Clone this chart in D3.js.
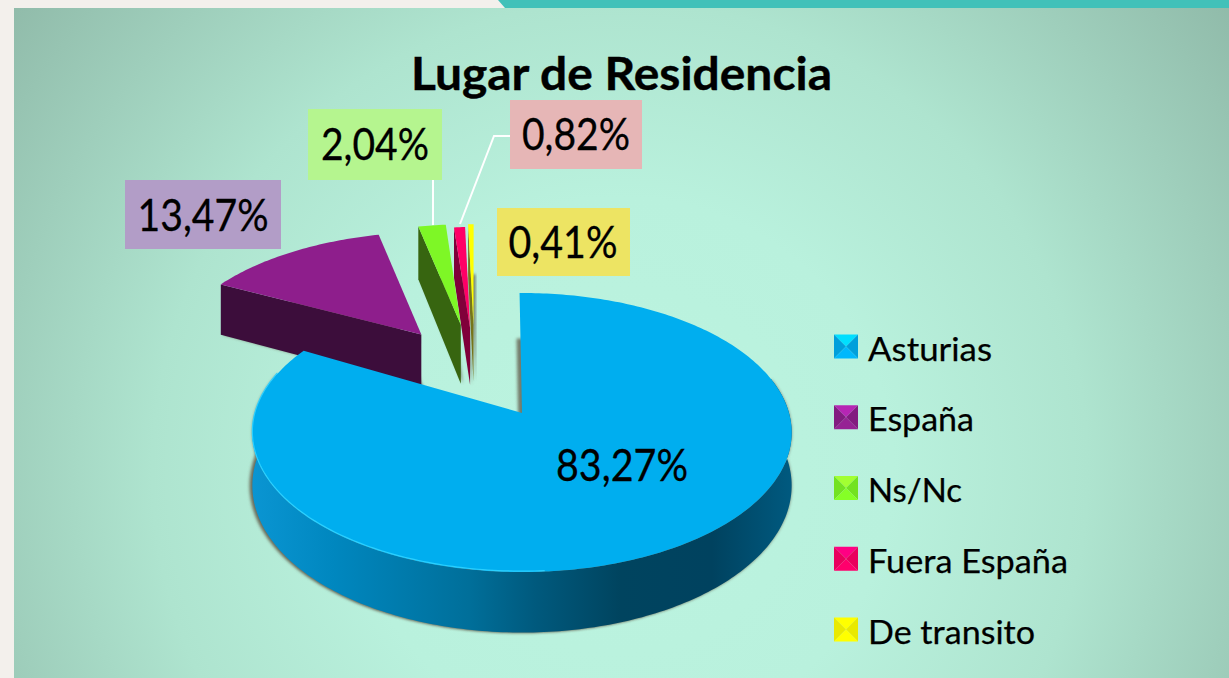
<!DOCTYPE html>
<html lang="es">
<head>
<meta charset="utf-8">
<title>Lugar de Residencia</title>
<script src="https://cdnjs.cloudflare.com/ajax/libs/d3/7.9.0/d3.min.js"></script>
<style>
    html, body { margin: 0; padding: 0; background: #f3f0ec; overflow: hidden; }
    svg { display: block; }
    text { font-family: Lato, Carlito, "Open Sans", sans-serif; fill: #000; }
</style>
</head>
<body>
<svg id="chart" width="1229" height="678"></svg>
<script>
// values
const categories = ["Asturias", "España", "Ns/Nc", "Fuera España", "De transito"];
const values = [83.27, 13.47, 2.04, 0.82, 0.41];
const title = "Lugar de Residencia";

// how each slice is pulled out of the pie (disc units), turned (degrees) and how thick it looks
const explodeX = [0, -0.41, -0.252, -0.213, -0.20];
const explodeY = [0, 0.625, 0.71, 0.68, 0.71];
const spin = [-0.6, -2.5, -1.4, -1.4, -1.4];
const thickness = [52, 58, 65, 62, 62];

const topColors = ["#00aeef", "#8e1e8c", "#7ef726", "#ff0066", "#ffff00"];
const wallColors = ["url(#wallBlue)", "#3c0d3b", "#376510", "#80003a", "#77771a"];
const boxColors = [null, "#b29dc7", "#b5f58f", "#e6b6b6", "#ede463"];

// label box: left, top, width, height; text: centre x, baseline y, width
const labelBoxes = [null, [125, 180, 156, 69], [308, 109, 134, 71], [510, 100, 132, 69], [497, 208, 133, 68]];
const labelText = [[622, 481, 132], [203, 231, 131], [375, 160, 108], [576, 150, 108], [563, 258, 109]];

const svg = d3.select("#chart");
const defs = svg.append("defs");

const bg = defs.append("radialGradient").attr("id", "bg")
    .attr("gradientUnits", "userSpaceOnUse")
    .attr("cx", 620).attr("cy", 470).attr("r", 780);
[[0, "#bcf4e0"], [0.35, "#b9f1dd"], [0.6, "#aee4cf"], [1, "#8fb9a8"]].forEach(function(s) {
    bg.append("stop").attr("offset", s[0]).attr("stop-color", s[1]);
});

const wall = defs.append("linearGradient").attr("id", "wallBlue")
    .attr("gradientUnits", "userSpaceOnUse")
    .attr("x1", 253).attr("x2", 793).attr("y1", 0).attr("y2", 0);
[[0, "#0a95d2"], [0.15, "#0087bf"], [0.4, "#006f9a"], [0.52, "#005a7e"], [0.68, "#00445f"],
 [0.85, "#00425f"], [1, "#005a80"]].forEach(function(s) {
    wall.append("stop").attr("offset", s[0]).attr("stop-color", s[1]);
});

defs.append("filter").attr("id", "soft").attr("x", "-20%").attr("y", "-20%")
    .attr("width", "140%").attr("height", "140%")
    .append("feGaussianBlur").attr("stdDeviation", 1.6);
defs.append("filter").attr("id", "rim").attr("x", "-5%").attr("y", "-5%")
    .attr("width", "110%").attr("height", "110%")
    .append("feGaussianBlur").attr("stdDeviation", 0.7);

// page
svg.append("rect").attr("x", 14).attr("y", 8).attr("width", 1215).attr("height", 670).attr("fill", "url(#bg)");
svg.append("path").attr("d", "M498,0L1229,0L1229,8L505,8Z").attr("fill", "#41c1b9");

svg.append("text")
    .attr("x", 621.5).attr("y", 90)
    .attr("text-anchor", "middle")
    .attr("font-size", 46).attr("font-weight", 700)
    .attr("stroke", "#000").attr("stroke-width", 0.4)
    .attr("textLength", 421).attr("lengthAdjust", "spacingAndGlyphs")
    .text(title);

// disc with a little perspective: the far side is squeezed
const perspective = 0.14;
const xScale = d3.scaleLinear().domain([-1, 1]).range([255, 789]);
const yScale = d3.scaleLinear().domain([-1, 1]).range([549.8, 276.2]);

function project(X, Y, drop) {
    const s = 1 / (1 + perspective * Y);
    return [xScale(X * s), yScale(Y * s) + drop * s];
}

const pie = d3.pie().sort(null).value(function(d) { return d; });
const arcs = pie(values);
const line = d3.line();

function rim(d, i, a0, a1, drop) {
    const n = Math.max(2, Math.ceil((a1 - a0) * 60));
    const turn = spin[i] * Math.PI / 180;
    return d3.range(n + 1).map(function(k) {
        const a = a0 + (a1 - a0) * k / n + turn;
        return project(explodeX[i] + Math.sin(a), explodeY[i] + Math.cos(a), drop);
    });
}
function wedge(d, i, drop) {
    const tip = project(explodeX[i], explodeY[i], drop);
    return line([tip].concat(rim(d, i, d.startAngle, d.endAngle, drop))) + "Z";
}
function outerWall(d, i, a0, a1) {
    const pts = rim(d, i, a0, a1, 0).concat(rim(d, i, a0, a1, thickness[i]).reverse());
    return line(pts) + "Z";
}
function sideWall(d, i, a) {
    const t = thickness[i];
    const turned = a + spin[i] * Math.PI / 180;
    const x = explodeX[i] + Math.sin(turned), y = explodeY[i] + Math.cos(turned);
    return line([
        project(explodeX[i], explodeY[i], 0), project(x, y, 0),
        project(x, y, t), project(explodeX[i], explodeY[i], t)
    ]) + "Z";
}

// far slices first, the big one last
const order = d3.range(values.length).reverse();
const slices = svg.append("g").selectAll("g").data(order).enter().append("g");

slices.append("path")
    .attr("d", function(i) { return wedge(arcs[i], i, thickness[i]); })
    .attr("transform", function(i) { return i === 0 ? "translate(-3,0)" : "translate(2,0)"; })
    .attr("fill", "#5d5445").attr("opacity", 0.75)
    .attr("filter", "url(#soft)");
slices.filter(function(i) { return i === 0; }).append("path")
    .attr("d", function(i) { return outerWall(arcs[i], i, Math.PI * 0.42, Math.PI * 1.6); })
    .attr("fill", "#5d5445").attr("opacity", 0.7)
    .attr("filter", "url(#soft)");
slices.filter(function(i) { return i === 0; }).append("path")
    .attr("d", function(i) { return outerWall(arcs[i], i, Math.PI * 0.42, Math.PI * 1.6); })
    .attr("fill", wallColors[0]);
slices.filter(function(i) { return i > 0; }).append("path")
    .attr("d", function(i) { return sideWall(arcs[i], i, arcs[i].startAngle); })
    .attr("fill", function(i) { return wallColors[i]; });
slices.append("path")
    .attr("d", function(i) { return wedge(arcs[i], i, 0); })
    .attr("fill", function(i) { return topColors[i]; });
slices.filter(function(i) { return i === 0; }).append("path")
    .attr("d", function(i) { return line(rim(arcs[i], i, Math.PI * 0.98, Math.PI * 1.6, -0.8)); })
    .attr("fill", "none").attr("stroke", "#2cd0ff").attr("stroke-width", 1.2)
    .attr("filter", "url(#rim)");

// leader lines
const leaders = [
    [[433, 180], [433, 225]],
    [[510, 136], [494, 136], [460, 224]]
];
svg.append("g").selectAll("path").data(leaders).enter().append("path")
    .attr("d", function(d) { return line(d); })
    .attr("fill", "none").attr("stroke", "#fff").attr("stroke-width", 2);

// value labels
const fmt = d3.formatLocale({ decimal: ",", thousands: ".", grouping: [3], currency: ["", ""] }).format(".2f");
const labels = svg.append("g").selectAll("g").data(d3.range(values.length)).enter().append("g");
labels.filter(function(i) { return labelBoxes[i]; }).append("rect")
    .attr("x", function(i) { return labelBoxes[i][0]; })
    .attr("y", function(i) { return labelBoxes[i][1]; })
    .attr("width", function(i) { return labelBoxes[i][2]; })
    .attr("height", function(i) { return labelBoxes[i][3]; })
    .attr("fill", function(i) { return boxColors[i]; });
labels.append("text")
    .attr("x", function(i) { return labelText[i][0]; })
    .attr("y", function(i) { return labelText[i][1]; })
    .attr("text-anchor", "middle")
    .attr("font-size", 44)
    .attr("stroke", "#000").attr("stroke-width", 0.3)
    .attr("textLength", function(i) { return labelText[i][2]; })
    .attr("lengthAdjust", "spacingAndGlyphs")
    .text(function(i) { return fmt(values[i]) + "%"; });

// legend
const legendY = d3.scalePoint().domain(categories).range([346.5, 629.5]);
const legendWidths = [124, 106, 94, 200, 167];
const marker = 24;
const legend = svg.append("g").selectAll("g").data(categories).enter().append("g")
    .attr("transform", function(d) { return "translate(834," + legendY(d) + ")"; });

function bevel(sel, pts, colour) {
    sel.append("path").attr("d", function() { return line(pts) + "Z"; }).attr("fill", colour);
}
legend.each(function(d, i) {
    const g = d3.select(this), h = marker / 2;
    const base = d3.color(topColors[i]);
    const box = g.append("g").attr("filter", "url(#rim)");
    bevel(box, [[0, -h], [marker, -h], [h, 0]], base.brighter(0.7).formatHex());
    bevel(box, [[0, -h], [h, 0], [0, h]], base.darker(0.25).formatHex());
    bevel(box, [[marker, -h], [h, 0], [marker, h]], base.darker(0.25).formatHex());
    bevel(box, [[0, h], [marker, h], [h, 0]], base.brighter(0.15).formatHex());
    g.append("text")
        .attr("x", 34).attr("y", 14)
        .attr("font-size", 33)
        .attr("stroke", "#000").attr("stroke-width", 0.25)
        .attr("textLength", legendWidths[i]).attr("lengthAdjust", "spacingAndGlyphs")
        .text(d);
});
</script>
</body>
</html>
